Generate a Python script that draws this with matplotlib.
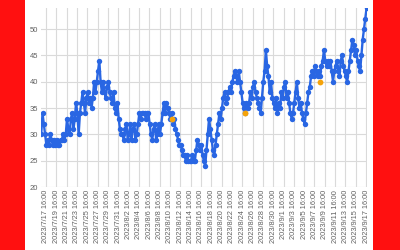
import matplotlib
matplotlib.use("Agg")
import matplotlib.pyplot as plt
import pandas as pd

# ---- data (6-hourly readings) ----
start_time = "2023-07-16 18:00"
step = "6h"
values = [
    30, 34, 32, 30,   28, 29, 28, 30,   29, 28, 29, 28,   29, 28, 28, 29,
    29, 30, 29, 30,   33, 31, 30, 33,   34, 31, 33, 36,   34, 30, 34, 36,
    38, 36, 34, 37,   38, 36, 37, 35,   37, 40, 38, 40,   42, 44, 40, 38,
    40, 38, 37, 39,   40, 38, 37, 36,   38, 35, 34, 36,   33, 31, 30, 30,
    29, 31, 32, 29,   30, 32, 29, 31,   32, 29, 30, 32,   34, 33, 34, 34,
    34, 33, 34, 34,   32, 30, 29, 31,   32, 29, 30, 32,   30, 32, 34, 36,
    34, 36, 35, 34,   33, 34, 32, 33,   31, 30, 29, 28,   28, 27, 26, 26,
    25, 26, 25, 25,   25, 26, 25, 25,   27, 29, 28, 27,   28, 26, 25, 24,
    27, 30, 33, 31,   29, 27, 26, 28,   30, 32, 34, 33,   35, 37, 38, 36,
    37, 38, 39, 38,   40, 41, 42, 41,   40, 42, 40, 38,   36, 35, 34, 36,
    35, 36, 38, 37,   39, 40, 38, 37,   36, 35, 34, 37,   40, 42, 46, 43,
    41, 38, 40, 37,   36, 35, 37, 34,   36, 35, 38, 37,   39, 40, 37, 38,
    36, 34, 33, 34,   36, 38, 40, 37,   35, 36, 34, 33,   32, 34, 36, 38,
    39, 41, 42, 41,   43, 42, 41, 42,   41, 43, 44, 46,   44, 43, 44, 43,
    44, 42, 40, 42,   43, 44, 42, 41,   44, 45, 43, 42,   41, 40, 42, 44,
    46, 48, 47, 45,   46, 44, 43, 42,   45, 48, 50, 52,   54,
]
highlight_times = ["2023-08-11 00:00", "2023-08-25 06:00", "2023-09-08 18:00"]
highlight_values = [33, 34, 40]

tick_start = "2023-07-17 16:00"
tick_end = "2023-09-17 16:00"
tick_every = "2D"

times = pd.date_range(start_time, periods=len(values), freq=step)
ticks = pd.date_range(tick_start, tick_end, freq=tick_every)
tick_labels = [f"{t.year}/{t.month}/{t.day} {t.hour}:{t.minute:02d}" for t in ticks]

blue = "#2966e3"
orange = "#f5a30a"

fig = plt.figure(figsize=(4, 2.5), dpi=100)
fig.patch.set_facecolor("#ff1010")
bg = fig.add_axes([25 / 400, 0, (373 - 25) / 400, 1], zorder=-5)
bg.set_facecolor("white")
bg.set_xticks([])
bg.set_yticks([])
for s in bg.spines.values():
    s.set_visible(False)

ax = fig.add_axes([41 / 400, 1 - 187 / 250, (367 - 41) / 400, (187 - 8) / 250], zorder=1)
ax.set_facecolor("white")
ax.plot(times, values, color=blue, lw=1.7, marker="o", ms=3.9,
        markeredgewidth=0, zorder=3)
ax.plot(pd.to_datetime(highlight_times), highlight_values, ls="none",
        marker="o", ms=4.2, color=orange, markeredgewidth=0, zorder=4)

ax.set_ylim(20, 54)
ax.set_yticks([20, 25, 30, 35, 40, 45, 50])
ax.set_xlim(pd.Timestamp("2023-07-16 17:00"), pd.Timestamp("2023-09-17 20:00"))
ax.set_xticks(ticks)
ax.set_xticklabels(tick_labels, rotation=90, fontsize=5.3,
                   family="Liberation Sans", color="#606060")
for lab in ax.get_yticklabels():
    lab.set_fontsize(5.5)
    lab.set_color("#606060")
    lab.set_family("Liberation Sans")

ax.grid(True, color="#dadada", lw=0.8)
ax.set_axisbelow(True)
for s in ax.spines.values():
    s.set_visible(False)
ax.tick_params(length=0, pad=2)

fig.savefig("out.png", dpi=100, facecolor=fig.get_facecolor())
